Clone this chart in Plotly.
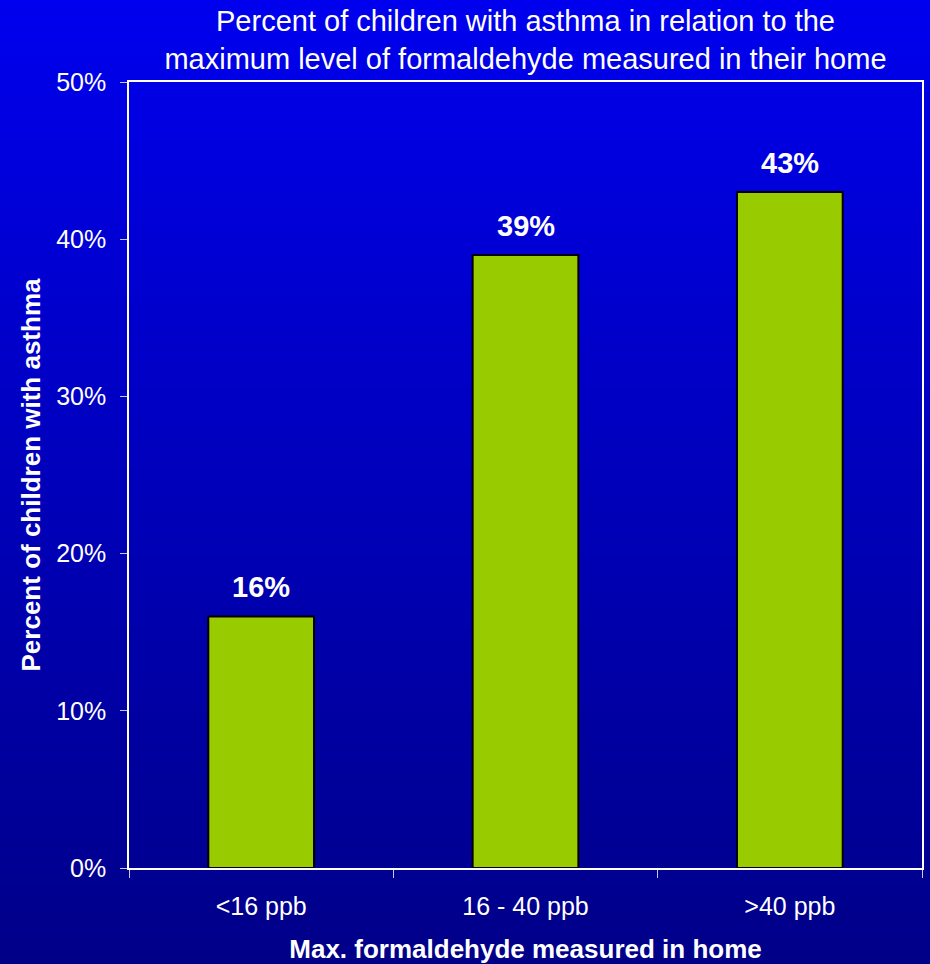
import plotly.graph_objects as go

# Chart data
categories = ["<16 ppb", "16 - 40 ppb", ">40 ppb"]
asthma_pct = [16, 39, 43]
y_ticks = [0, 10, 20, 30, 40, 50]

title_text = ("Percent of children with asthma in relation to the<br>"
              "maximum level of formaldehyde measured in their home")
x_title = "Max. formaldehyde measured in home"
y_title = "Percent of children with asthma"

W, H = 930, 964
M_L, M_R, M_T, M_B = 129, 8, 82, 96
plot_h = H - M_T - M_B
plot_w = W - M_L - M_R
FONT = "Liberation Sans, Arial, sans-serif"

fig = go.Figure()
fig.add_trace(go.Bar(
    x=categories,
    y=asthma_pct,
    width=0.4,
    marker=dict(color="#99CC00", line=dict(color="#000000", width=2)),
    hoverinfo="x+y",
))

# Value labels above each bar
for c, v in zip(categories, asthma_pct):
    fig.add_annotation(
        x=c, y=v, text=f"<b>{v}%</b>", showarrow=False,
        yanchor="bottom", yshift=11,
        font=dict(family=FONT, size=29, color="white"),
    )

# Vertical blue gradient behind the whole figure
top_rgb = (0, 0, 238)
bot_rgb = (0, 0, 136)
n_bands = 160
shapes = []
for i in range(n_bands):
    py0 = H * i / n_bands
    py1 = H * (i + 1) / n_bands + 1
    t = (i + 0.5) / n_bands
    r = round(top_rgb[0] + (bot_rgb[0] - top_rgb[0]) * t)
    g = round(top_rgb[1] + (bot_rgb[1] - top_rgb[1]) * t)
    b = round(top_rgb[2] + (bot_rgb[2] - top_rgb[2]) * t)
    shapes.append(dict(
        type="rect", xref="paper", yref="paper", layer="below",
        x0=-M_L / plot_w - 0.01, x1=1 + M_R / plot_w + 0.01,
        y0=(H - M_B - py1) / plot_h, y1=(H - M_B - py0) / plot_h,
        line=dict(width=0), fillcolor=f"rgb({r},{g},{b})",
    ))

fig.update_layout(
    width=W, height=H,
    margin=dict(l=M_L, r=M_R, t=M_T, b=M_B),
    paper_bgcolor="rgb(0,0,136)",
    plot_bgcolor="rgba(0,0,0,0)",
    shapes=shapes,
    showlegend=False,
    bargap=0.6,
    title=dict(
        text=title_text, x=(M_L + plot_w / 2) / W, xanchor="center",
        y=1 - 31 / H, yanchor="middle",
        font=dict(family=FONT, size=29, color="white"),
    ),
    font=dict(family=FONT, color="white"),
)

fig.update_xaxes(
    type="category",
    automargin=False,
    tickson="boundaries",
    ticks="outside", ticklen=8, tickcolor="#c8c8e8", tickwidth=1,
    showline=True, mirror=True, linecolor="white", linewidth=1.5,
    showgrid=False, zeroline=False,
    tickfont=dict(family=FONT, size=25, color="white"),
    ticklabelstandoff=15,
    title=dict(text=f"<b>{x_title}</b>", standoff=21,
               font=dict(family=FONT, size=26, color="white")),
)

fig.update_yaxes(
    range=[0, 50],
    automargin=False,
    tickvals=y_ticks,
    ticktext=[f"{v}%" for v in y_ticks],
    ticks="outside", ticklen=7, tickcolor="#c8c8e8", tickwidth=1,
    showline=True, mirror=True, linecolor="white", linewidth=1.5,
    showgrid=False, zeroline=False,
    tickfont=dict(family=FONT, size=25, color="white"),
    ticklabelstandoff=9,
    title=dict(text=f"<b>{y_title}</b>", standoff=8,
               font=dict(family=FONT, size=26, color="white")),
)

fig.write_html("out.html")
